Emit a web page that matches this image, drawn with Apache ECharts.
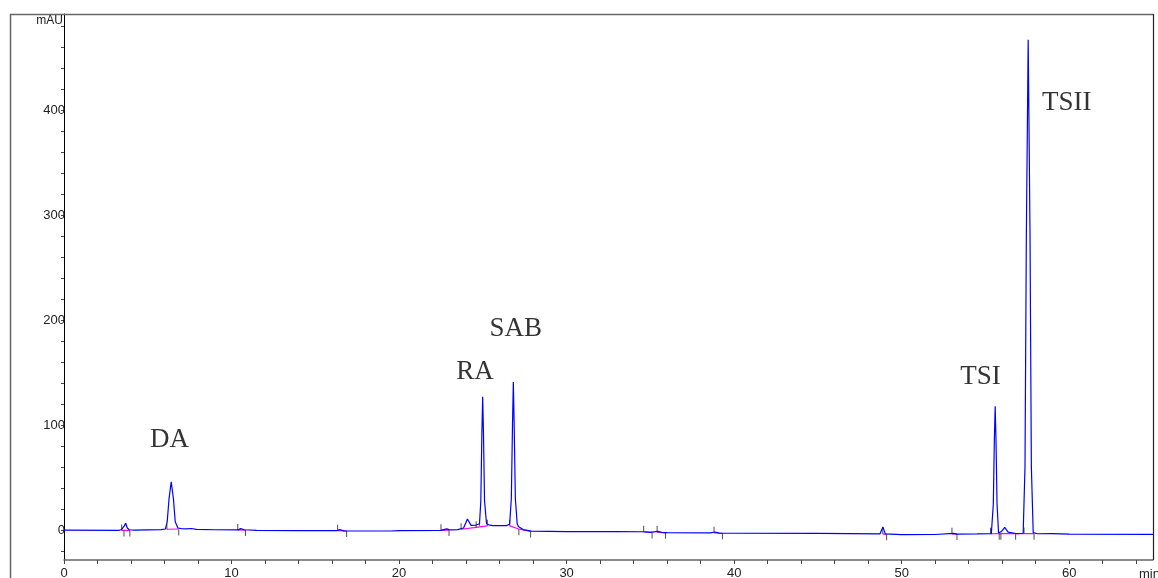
<!DOCTYPE html>
<html>
<head>
<meta charset="utf-8">
<script src="https://cdn.jsdelivr.net/npm/echarts@6/dist/echarts.min.js"></script>
<style>
  html, body { margin: 0; padding: 0; background: #fff; }
  #chart { width: 1158px; height: 578px; }
</style>
</head>
<body>
<div id="chart"></div>
<script>
// detector trace, [time (min), signal (mAU)]
var trace = [
  [0, 0], [3.3, -0.2], [3.44, 0.6], [3.52, -0.3], [3.6, 4], [3.68, 6.5], [3.78, 2], [3.9, 0.3],
  [4.2, 0], [5.8, 0.5], [6.05, 1], [6.16, 8], [6.27, 30], [6.4, 46], [6.53, 30], [6.64, 8],
  [6.8, 2], [7.0, 1.3], [7.3, 1.1], [7.6, 1.5], [7.9, 0.7], [9.0, 0.3], [10.4, 0.2],
  [10.55, 1.4], [10.75, 0.3], [11.5, -0.2], [14, -0.5], [16.3, -0.5], [16.45, 0.6],
  [16.7, -0.8], [19.5, -0.9], [20, -0.5], [22.5, -0.3], [22.85, 1.2], [23.05, 0.1],
  [23.5, 0.4], [23.85, 2], [24.08, 10.5], [24.3, 4.5], [24.6, 4.8], [24.8, 6],
  [24.88, 28], [24.94, 90], [24.99, 127], [25.04, 90], [25.1, 28], [25.22, 6],
  [25.35, 5], [25.6, 4.2], [26.4, 4.2], [26.6, 5.5], [26.7, 30], [26.77, 100],
  [26.82, 141], [26.87, 100], [26.94, 30], [27.05, 6], [27.12, 3.5], [27.22, 4.2],
  [27.4, 0.5], [27.9, -1], [30, -1.5], [33, -1.4], [34.5, -1.6], [35.0, -2.2],
  [35.45, -1.2], [35.7, -2.3], [36, -2.5], [38.6, -2.7], [38.85, -1.8], [39.1, -2.9],
  [40, -3], [45, -3.2], [48.7, -3.7], [48.88, 3], [49.02, -3.6], [50, -4.3], [52, -4.2],
  [53.1, -3.1], [53.3, -3.8], [54.5, -3.7], [55.35, -3.5], [55.47, 25], [55.53, 85],
  [55.58, 118], [55.63, 85], [55.69, 25], [55.78, -2.5], [55.95, -1.5], [56.15, 2.5],
  [56.35, -2], [56.9, -3.5], [57.25, -3], [57.36, 60], [57.44, 280], [57.55, 467],
  [57.66, 280], [57.74, 60], [57.85, -2.5], [58.1, -3.5], [59, -3.3], [60, -3.9],
  [65, -4]
];

// magenta integration baselines under the peaks
var baselines = [
  [[3.44, -0.3], [3.93, -0.3]],
  [[6.14, 0.8], [6.85, 1.0]],
  [[10.37, 0.1], [10.83, 0]],
  [[16.33, -0.6], [16.87, -0.8]],
  [[22.5, -0.2], [22.98, 0]],
  [[23.7, 0.8], [24.6, 2.6], [25.27, 4]],
  [[26.6, 4], [27.15, 1.0], [27.85, -1.2]],
  [[34.6, -1.6], [35.1, -2.2]],
  [[35.4, -2], [35.9, -2.6]],
  [[38.8, -2.6], [39.3, -3]],
  [[48.87, -3.8], [49.1, -3.9]],
  [[53.0, -3.6], [53.3, -3.8]],
  [[55.3, -3.5], [55.85, -3.4], [56.8, -3.4], [57.3, -3.3], [57.9, -3.3]]
];

// black start / end markers of the integration, [time, centre value]
var markers = [
  [3.44, 2.5], [3.58, -3.2], [3.93, -3.2], [6.14, 3.5], [6.85, -2.2],
  [10.37, 2.9], [10.83, -2.9], [16.33, 2.3], [16.87, -3.7], [22.5, 2.6], [22.98, -2.9],
  [23.7, 3.6], [24.6, 5.6], [24.8, 7], [25.27, 7], [26.6, 7], [27.15, -2],
  [27.85, -4.2], [34.6, 1.3], [35.1, -5.1], [35.4, 1], [35.9, -5.5], [38.8, 0.3],
  [39.3, -5.9], [48.87, -0.9], [49.1, -6.8], [53.0, -0.7], [53.3, -6.7], [55.3, -0.6],
  [55.82, -6.4], [55.92, -6.4], [56.8, -6.4], [57.3, -0.4], [57.9, -6.3]
];

// peak names at [time, value]
var peakNames = [
  { name: 'DA', value: [6.3, 86] },
  { name: 'RA', value: [24.53, 151] },
  { name: 'SAB', value: [26.97, 192] },
  { name: 'TSI', value: [54.7, 146] },
  { name: 'TSII', value: [59.85, 407] }
];

var xLabelValues = [0, 10, 20, 30, 40, 50, 60];
var xTickValues = [0, 2, 4, 6, 8, 10, 12, 14, 16, 18, 20, 22, 24, 26, 28, 30, 32, 34,
  36, 38, 40, 42, 44, 46, 48, 50, 52, 54, 56, 58, 60, 62, 64];
var yLabelValues = [0, 100, 200, 300, 400];
var yTickValues = [-20, 0, 20, 40, 60, 80, 100, 120, 140, 160, 180, 200, 220, 240, 260,
  280, 300, 320, 340, 360, 380, 400, 420, 440, 460, 480];

var chart = echarts.init(document.getElementById('chart'));

var option = {
  backgroundColor: '#ffffff',
  animation: false,
  grid: { left: 64, right: 5, top: 14, bottom: 18, outerBoundsMode: 'none', containLabel: false },
  xAxis: {
    type: 'value',
    min: 0,
    max: 65,
    splitLine: { show: false },
    axisLine: { onZero: false, lineStyle: { color: '#666', width: 1.5 } },
    axisTick: { customValues: xTickValues, length: 4, lineStyle: { color: '#444' } },
    axisLabel: {
      customValues: xLabelValues,
      margin: 7,
      color: '#222',
      fontSize: 13,
      fontFamily: 'Liberation Sans'
    }
  },
  yAxis: {
    type: 'value',
    min: -28.5,
    max: 491.5,
    splitLine: { show: false },
    axisLine: { show: true, lineStyle: { color: '#000', width: 1 } },
    axisTick: { customValues: yTickValues, length: 3, lineStyle: { color: '#444' } },
    axisLabel: {
      customValues: yLabelValues,
      margin: -1,
      color: '#222',
      fontSize: 13,
      fontFamily: 'Liberation Sans'
    }
  },
  graphic: [
    // outer frame
    { type: 'polyline', silent: true, z: 10,
      shape: { points: [[10.5, 578], [10.5, 14.5], [1153.5, 14.5]] },
      style: { stroke: '#666', lineWidth: 1.5, fill: null } },
    { type: 'line', silent: true, z: 10,
      shape: { x1: 1153.5, y1: 14, x2: 1153.5, y2: 560 },
      style: { stroke: '#222', lineWidth: 1.2 } },
    { type: 'text', silent: true, z: 10,
      x: 63, y: 21,
      style: { text: 'mAU', fill: '#222', font: '12px "Liberation Sans"',
        align: 'right', verticalAlign: 'middle' } },
    { type: 'text', silent: true, z: 10,
      x: 1139, y: 574,
      style: { text: 'min', fill: '#222', font: '13px "Liberation Sans"',
        align: 'left', verticalAlign: 'middle' } }
  ],
  series: [
    {
      type: 'lines',
      coordinateSystem: 'cartesian2d',
      polyline: true,
      silent: true,
      z: 2,
      lineStyle: { color: '#ff00ff', width: 1.2, opacity: 1 },
      data: baselines.map(function (seg) { return { coords: seg }; })
    },
    {
      type: 'line',
      data: trace,
      showSymbol: false,
      silent: true,
      z: 3,
      lineStyle: { color: '#0000ff', width: 1.2 }
    },
    {
      type: 'scatter',
      data: markers,
      symbol: 'rect',
      symbolSize: [1, 6],
      silent: true,
      z: 4,
      itemStyle: { color: '#222' }
    },
    {
      type: 'scatter',
      data: peakNames,
      symbolSize: 0,
      silent: true,
      z: 5,
      label: {
        show: true,
        position: 'inside',
        formatter: '{b}',
        color: '#000',
        textBorderWidth: 0,
        fontSize: 27,
        fontFamily: 'Liberation Serif'
      }
    }
  ]
};

chart.setOption(option);
</script>
</body>
</html>
